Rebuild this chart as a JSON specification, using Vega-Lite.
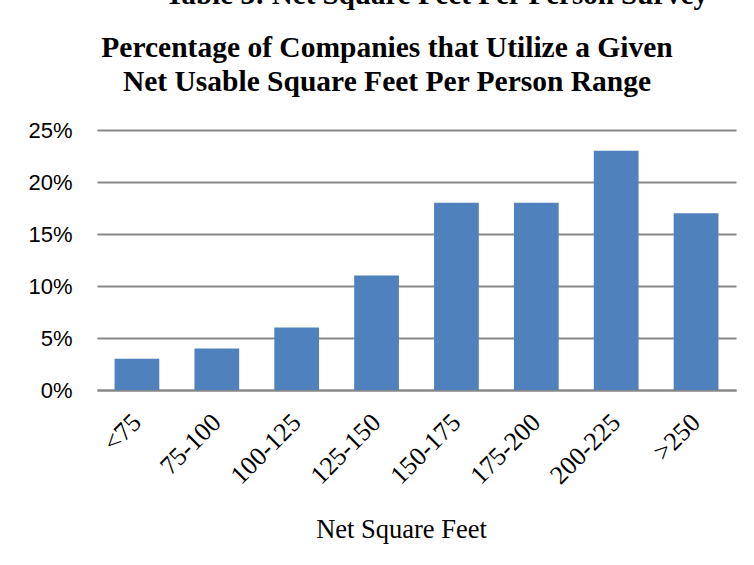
{
  "$schema": "https://vega.github.io/schema/vega-lite/v6.json",
  "autosize": "none",
  "width": 639,
  "height": 260,
  "padding": {"left": 97, "top": 130, "right": 18, "bottom": 175},
  "background": "white",
  "title": {
    "text": "Table 3: Net Square Feet Per Person Survey",
    "font": "Liberation Serif",
    "fontSize": 29,
    "fontWeight": "bold",
    "color": "black",
    "anchor": "middle",
    "frame": "group",
    "dx": 20,
    "offset": 22
  },
  "data": {
    "values": [
      {"range": "<75", "pct": 0.03},
      {"range": "75-100", "pct": 0.04},
      {"range": "100-125", "pct": 0.06},
      {"range": "125-150", "pct": 0.11},
      {"range": "150-175", "pct": 0.18},
      {"range": "175-200", "pct": 0.18},
      {"range": "200-225", "pct": 0.23},
      {"range": ">250", "pct": 0.17}
    ]
  },
  "layer": [
    {
      "mark": {"type": "bar", "color": "#4F81BD"},
      "encoding": {
        "x": {
          "field": "range", "type": "nominal", "sort": null,
          "scale": {"paddingInner": 0.44, "paddingOuter": 0.22},
          "axis": {
            "orient": "bottom",
            "labelAngle": -45,
            "labelAlign": "right",
            "labelBaseline": "middle",
            "labelFont": "Liberation Serif",
            "labelFontSize": 26,
            "labelColor": "black",
            "labelPadding": 28,
            "ticks": false,
            "domain": true,
            "domainColor": "#888888",
            "domainWidth": 2,
            "title": "Net Square Feet",
            "titleFont": "Liberation Serif",
            "titleFontSize": 26.5,
            "titleFontWeight": "normal",
            "titleColor": "black",
            "titleAlign": "center",
            "titleX": 304,
            "titlePadding": 28
          }
        },
        "y": {
          "field": "pct", "type": "quantitative",
          "scale": {"domain": [0, 0.25], "nice": false},
          "axis": {
            "values": [0, 0.05, 0.1, 0.15, 0.2, 0.25],
            "format": ".0%",
            "grid": true,
            "gridColor": "#888888",
            "gridWidth": 2,
            "domain": false,
            "ticks": false,
            "labelFont": "Liberation Sans",
            "labelFontSize": 22,
            "labelColor": "black",
            "labelPadding": 25,
            "title": null
          }
        }
      }
    },
    {
      "mark": {"type": "bar", "opacity": 0},
      "encoding": {
        "x": {
          "field": "range", "type": "nominal", "sort": null,
          "axis": {
            "orient": "top",
            "labels": false,
            "ticks": false,
            "domain": false,
            "grid": false,
            "title": ["Percentage of Companies that Utilize a Given", "Net Usable Square Feet Per Person Range"],
            "titleFont": "Liberation Serif",
            "titleFontSize": 29.5,
            "titleFontWeight": "bold",
            "titleColor": "black",
            "titleLineHeight": 34,
            "titleAlign": "center",
            "titleBaseline": "alphabetic",
            "titleX": 289.5,
            "titleY": -74
          }
        },
        "y": {"field": "pct", "type": "quantitative"}
      }
    }
  ],
  "resolve": {"axis": {"x": "independent"}},
  "config": {"view": {"stroke": null}}
}
